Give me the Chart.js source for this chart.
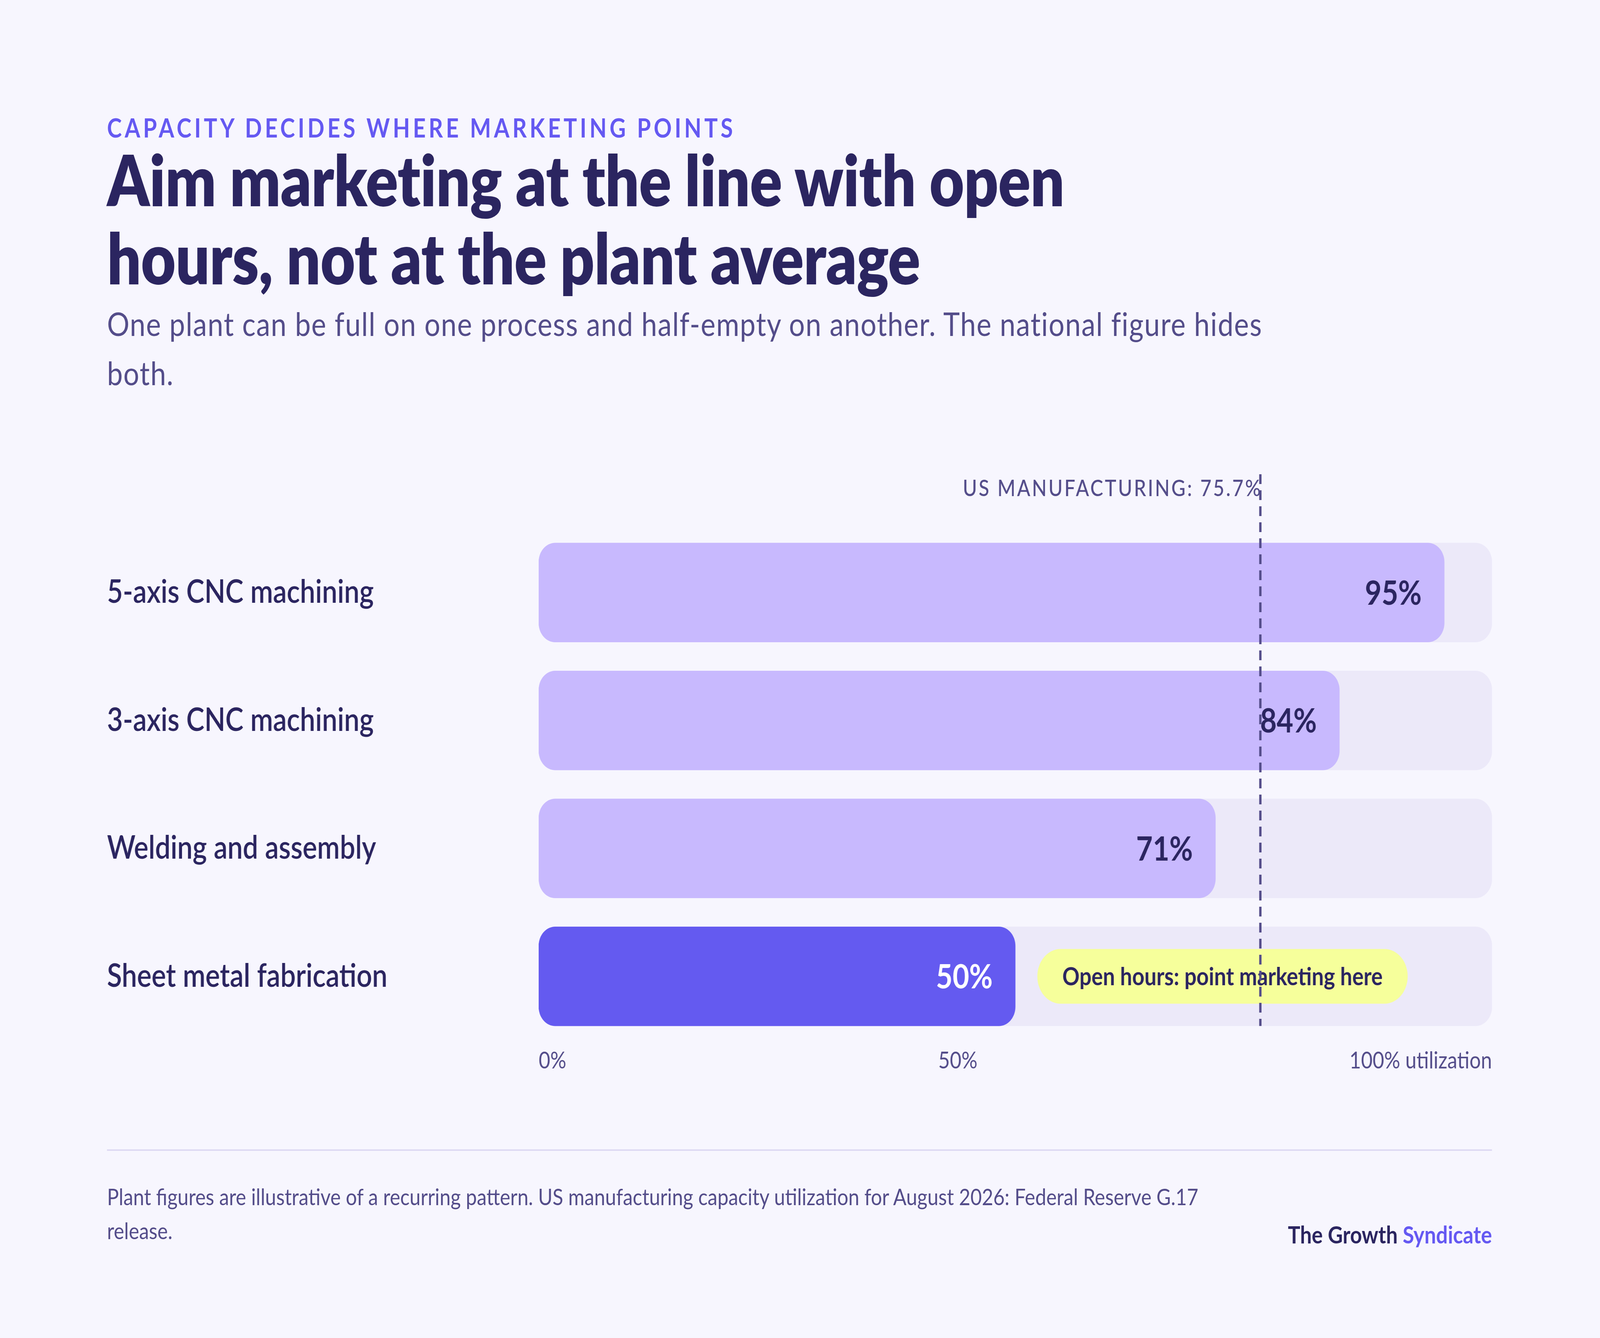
<!DOCTYPE html>
<html>
<head>
<meta charset="utf-8">
<script src="https://cdn.jsdelivr.net/npm/chart.js@4.4.1/dist/chart.umd.min.js"></script>
<style>
  html, body { margin: 0; padding: 0; background: #F7F6FE; overflow: hidden; }
  body { width: 100vw; height: 100vh; font-family: Lato, "Noto Sans", sans-serif; color: #2B2560; }
  #page { position: absolute; left: 0; top: 0; width: 4800px; height: 3425px; transform-origin: 0 0; }
  .eyebrow { position: absolute; left: 321px; top: 293px; font-size: 67px; line-height: 67px;
             font-weight: 700; letter-spacing: 0.13em; color: #6559F2; white-space: nowrap; }
  .title { position: absolute; left: 321px; top: 358px; font-size: 180px; line-height: 200px;
           font-weight: 800; letter-spacing: -0.004em; white-space: nowrap; }
  .subtitle { position: absolute; left: 321px; top: 765px; font-size: 84px; line-height: 126px;
              font-weight: 400; letter-spacing: 2px; color: #544D8A; white-space: nowrap; }
  #chartBox { position: absolute; left: 0; top: 1150px; width: 4800px; height: 1650px; }
  .rule { position: absolute; left: 321px; top: 2942px; width: 4155px; height: 4px; background: #DEDAF3; }
  .note { position: absolute; left: 321px; top: 3019px; font-size: 59px; line-height: 87px;
          color: #544D8A; white-space: nowrap; }
  .brand { position: absolute; right: 324px; top: 3128px; font-size: 62px; line-height: 62px;
           font-weight: 700; color: #2B2560; white-space: nowrap; }
  .brand span { color: #6559F2; }
</style>
</head>
<body>
<div id="page">
  <div class="eyebrow">CAPACITY DECIDES WHERE MARKETING POINTS</div>
  <div class="title">Aim marketing at the line with open<br>hours, not at the plant average</div>
  <div class="subtitle">One plant can be full on one process and half-empty on another. The national figure hides<br>both.</div>
  <div id="chartBox"><canvas id="util" width="4800" height="1650"></canvas></div>
  <div class="rule"></div>
  <div class="note">Plant figures are illustrative of a recurring pattern. US manufacturing capacity utilization for August 2026: Federal Reserve G.17<br>release.</div>
  <div class="brand">The Growth <span>Syndicate</span></div>
</div>

<script>
// data
var processes = ['5-axis CNC machining', '3-axis CNC machining', 'Welding and assembly', 'Sheet metal fabrication'];
var utilization = [95, 84, 71, 50];
var usManufacturing = 75.7;
var tickLabels = ['0%', '50%', '100% utilization'];
var highlightIndex = 3;
var calloutText = 'Open hours: point marketing here';

// the page is laid out at 4800x3425, fit it to whatever window we get
var page = document.getElementById('page');
page.style.transform = 'scale(' + (window.innerWidth / 4800) + ',' + (window.innerHeight / 3425) + ')';

var dark = '#2B2560';
var muted = '#544D8A';
var barThick = 254;

var barColors = utilization.map(function(v, i) {
  return i === highlightIndex ? '#645AF0' : '#C8B9FE';
});

var overlays = {
  id: 'overlays',
  afterDatasetsDraw: function(chart) {
    var ctx = chart.ctx;
    var xs = chart.scales.x;
    var ys = chart.scales.y;
    var area = chart.chartArea;
    var bars = chart.getDatasetMeta(0).data;

    // value labels at the end of each bar
    ctx.save();
    ctx.font = '700 86px Lato';
    ctx.textAlign = 'right';
    ctx.textBaseline = 'alphabetic';
    bars.forEach(function(bar, i) {
      ctx.fillStyle = i === highlightIndex ? '#FFFFFF' : dark;
      ctx.fillText(utilization[i] + '%', bar.x - 68, bar.y + 31);
    });

    // callout pill next to the highlighted bar
    var hb = bars[highlightIndex];
    ctx.font = '700 64px Lato';
    var tw = ctx.measureText(calloutText).width;
    var px = hb.x + 66, ph = 140, pw = tw + 150, py = hb.y - ph / 2;
    ctx.fillStyle = '#F6FF9B';
    ctx.beginPath();
    ctx.roundRect(px, py, pw, ph, ph / 2);
    ctx.fill();
    ctx.fillStyle = dark;
    ctx.textAlign = 'left';
    ctx.fillText(calloutText, px + 75, hb.y + 23);

    // US manufacturing reference line
    var lx = xs.getPixelForValue(usManufacturing);
    var lastBottom = ys.getPixelForValue(processes.length - 1) + barThick / 2;
    ctx.strokeStyle = muted;
    ctx.lineWidth = 7;
    ctx.setLineDash([25, 16]);
    ctx.beginPath();
    ctx.moveTo(lx, 64);
    ctx.lineTo(lx, lastBottom);
    ctx.stroke();
    ctx.setLineDash([]);

    ctx.font = '500 58px Lato';
    ctx.letterSpacing = '5px';
    ctx.fillStyle = muted;
    ctx.textAlign = 'right';
    ctx.fillText('US MANUFACTURING: ' + usManufacturing + '%', lx + 6, 120);
    ctx.letterSpacing = '0px';

    // axis labels spread across the track
    ctx.font = '400 60px Lato';
    ctx.textAlign = 'left';
    var widths = tickLabels.map(function(t) { return ctx.measureText(t).width; });
    var left = xs.getPixelForValue(0), right = xs.getPixelForValue(100);
    var gap = (right - left - widths[0] - widths[1] - widths[2]) / 2;
    var tx = left;
    tickLabels.forEach(function(t, i) {
      ctx.fillText(t, tx, area.bottom + 72);
      tx += widths[i] + gap;
    });
    ctx.restore();
  }
};

new Chart(document.getElementById('util'), {
  type: 'bar',
  data: {
    labels: processes,
    datasets: [
      {
        data: utilization,
        backgroundColor: barColors,
        borderRadius: 50,
        borderSkipped: false,
        barThickness: barThick,
        grouped: false,
        order: 1
      },
      {
        data: processes.map(function() { return 100; }),
        backgroundColor: '#ECE9F9',
        borderRadius: 50,
        borderSkipped: false,
        barThickness: barThick,
        grouped: false,
        order: 2
      }
    ]
  },
  options: {
    indexAxis: 'y',
    responsive: false,
    animation: false,
    devicePixelRatio: 1,
    layout: { padding: { left: 321, right: 324, top: 203, bottom: 137 } },
    plugins: { legend: { display: false }, tooltip: { enabled: false } },
    scales: {
      x: { min: 0, max: 100, display: false },
      y: {
        grid: { display: false },
        border: { display: false },
        afterFit: function(scale) { scale.width = 1295; },
        ticks: {
          crossAlign: 'far',
          padding: 0,
          color: dark,
          font: { family: 'Lato', size: 82, weight: '600' }
        }
      }
    }
  },
  plugins: [overlays]
});
</script>
</body>
</html>
